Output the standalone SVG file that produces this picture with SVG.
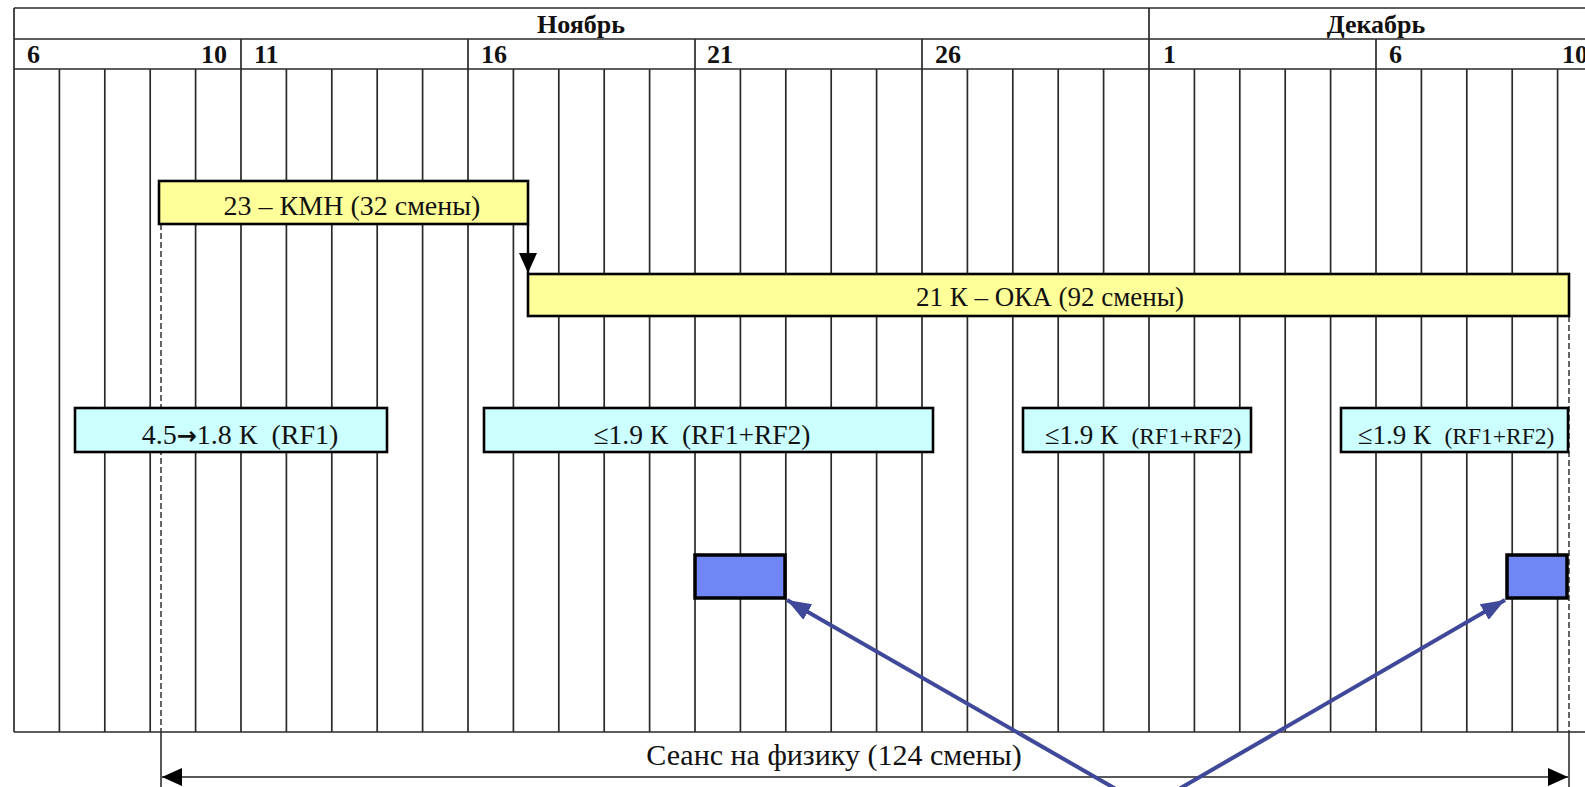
<svg xmlns="http://www.w3.org/2000/svg" width="1585" height="787" viewBox="0 0 1585 787">
<defs>
<style>
.grid{stroke:#2a2a2a;stroke-width:1.7;fill:none}
.hdr{font-family:"Liberation Serif",serif;font-size:26px;font-weight:bold;fill:#111}
.lbl{font-family:"Liberation Serif",serif;font-size:28px;fill:#111}
.bar{fill:#FFFF99;stroke:#000;stroke-width:2.6}
.cyan{fill:#CCFFFF;stroke:#000;stroke-width:2.6}
.blue{fill:#6F86F4;stroke:#000;stroke-width:3.5}
.dash{stroke:#333;stroke-width:1.5;stroke-dasharray:6 3;fill:none}
.solid{stroke:#222;stroke-width:1.5;fill:none}
.bl{stroke:#3F4899;stroke-width:4;fill:none}
</style>
<marker id="ah" markerUnits="userSpaceOnUse" markerWidth="20" markerHeight="20" viewBox="0 0 20 20" refX="20" refY="10" orient="auto-start-reverse">
<path d="M0,1 L20,10 L0,19 Z" fill="#000"/>
</marker>
<marker id="bh" markerUnits="userSpaceOnUse" markerWidth="24" markerHeight="22" viewBox="0 0 24 22" refX="24" refY="11" orient="auto">
<path d="M0,2 L24,11 L0,20 Z" fill="#3F4899"/>
</marker>
</defs>
<rect width="1585" height="787" fill="#fff"/>
<g id="table">
<path class="grid" d="M14,8 H1603 M14,39 H1603 M14,69 H1603 M14,732 H1603 M14,8 V732 M1149,8 V39 M241,39 V69 M468,39 V69 M695,39 V69 M922,39 V69 M1149,39 V69 M1376,39 V69"/>
<path class="grid" d="M59.4,69V732 M104.8,69V732 M150.2,69V732 M195.6,69V732 M241,69V732 M286.4,69V732 M331.8,69V732 M377.2,69V732 M422.6,69V732 M468,69V732 M513.4,69V732 M558.8,69V732 M604.2,69V732 M649.6,69V732 M695,69V732 M740.4,69V732 M785.8,69V732 M831.2,69V732 M876.6,69V732 M922,69V732 M967.4,69V732 M1012.8,69V732 M1058.2,69V732 M1103.6,69V732 M1149,69V732 M1194.4,69V732 M1239.8,69V732 M1285.2,69V732 M1330.6,69V732 M1376,69V732 M1421.4,69V732 M1466.8,69V732 M1512.2,69V732 M1557.6,69V732"/>
<text class="hdr" x="581" y="33" text-anchor="middle">Ноябрь</text>
<text class="hdr" x="1376" y="33" text-anchor="middle">Декабрь</text>
<text class="hdr" x="27" y="63">6</text>
<text class="hdr" x="227" y="63" text-anchor="end">10</text>
<text class="hdr" x="254" y="63">11</text>
<text class="hdr" x="481" y="63">16</text>
<text class="hdr" x="707" y="63">21</text>
<text class="hdr" x="935" y="63">26</text>
<text class="hdr" x="1163" y="63">1</text>
<text class="hdr" x="1389" y="63">6</text>
<text class="hdr" x="1562" y="63">10</text>
</g>
<g id="connectors">
<path class="dash" d="M161,224 V732"/>
<path class="solid" d="M161,732 V787"/>
<path class="dash" d="M1569,316 V732"/>
<path class="solid" d="M1569,732 V787"/>
<path class="solid" d="M162,777 H1568" marker-start="url(#ah)" marker-end="url(#ah)" style="stroke-width:1.6"/>
<path class="solid" d="M528,224 V273" marker-end="url(#ah)" style="stroke:#000;stroke-width:2.4"/>
<path class="bl" d="M1135,800 L787,600" marker-end="url(#bh)"/>
<path class="bl" d="M1160,800 L1505,600" marker-end="url(#bh)"/>
</g>
<g id="kmn">
<rect class="bar" x="159" y="181" width="369" height="43"/>
<text class="lbl" x="352" y="215" text-anchor="middle">23 – КМН (32 смены)</text>
</g>
<g id="oka">
<rect class="bar" x="528" y="274" width="1041" height="42"/>
<text class="lbl" x="1050" y="306" text-anchor="middle" style="font-size:27px">21 К – ОКА (92 смены)</text>
</g>
<g id="rf1">
<rect class="cyan" x="75" y="408" width="312" height="44"/>
<text class="lbl" x="240" y="444" text-anchor="middle" xml:space="preserve">4.5<tspan style="font-family:'DejaVu Sans',sans-serif;font-weight:bold;font-size:24px">→</tspan>1.8 К  (RF1)</text>
</g>
<g id="rf12a">
<rect class="cyan" x="484" y="408" width="449" height="44"/>
<text class="lbl" x="702" y="444" text-anchor="middle" xml:space="preserve" style="font-size:27.5px">≤1.9 К  (RF1+RF2)</text>
</g>
<g id="rf12b">
<rect class="cyan" x="1023" y="408" width="228" height="44"/>
<text class="lbl" x="1143" y="444" text-anchor="middle" xml:space="preserve" style="font-size:27px">≤1.9 К  <tspan style="font-size:23.5px">(RF1+RF2)</tspan></text>
</g>
<g id="rf12c">
<rect class="cyan" x="1341" y="408" width="227" height="44"/>
<text class="lbl" x="1456" y="444" text-anchor="middle" xml:space="preserve" style="font-size:27px">≤1.9 К  <tspan style="font-size:23.5px">(RF1+RF2)</tspan></text>
</g>
<g id="blue1">
<rect class="blue" x="695" y="555" width="90" height="43"/>
</g>
<g id="blue2">
<rect class="blue" x="1507" y="555" width="60" height="43"/>
</g>
<g id="session">
<text class="lbl" x="834" y="765" text-anchor="middle" style="font-size:30px">Сеанс на физику (124 смены)</text>
</g>
</svg>
